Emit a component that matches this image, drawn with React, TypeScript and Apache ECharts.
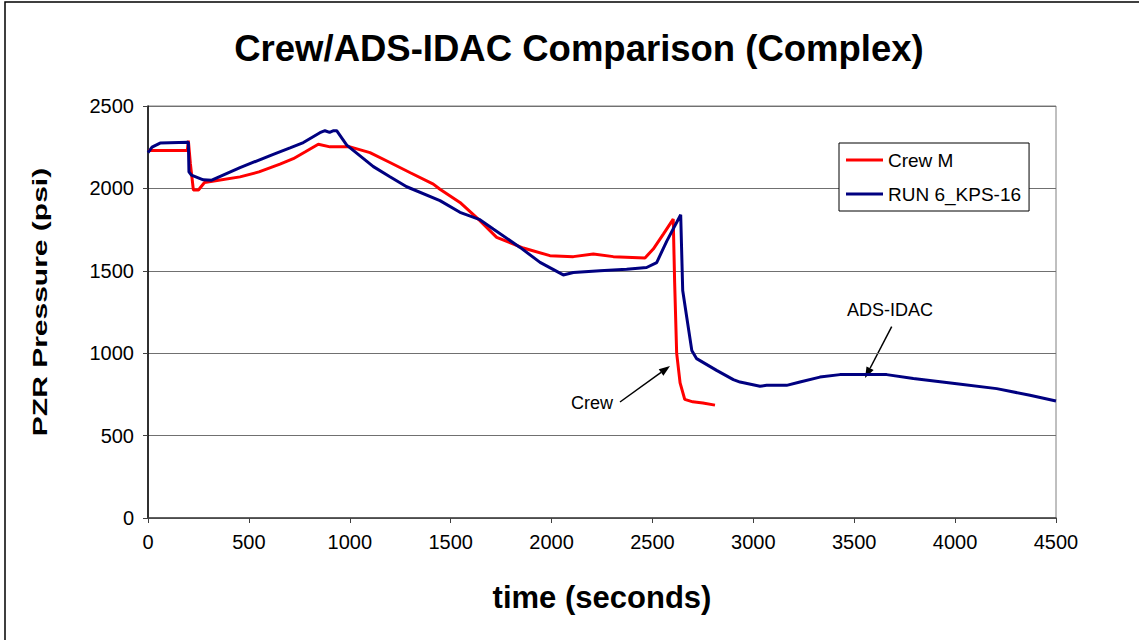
import React, { useEffect, useRef } from "react";
import * as echarts from "echarts";

const crewT = [0, 195, 200, 210, 225, 250, 280, 350, 456, 550, 654, 720, 780, 844, 902, 1001, 1100, 1199, 1300, 1414, 1447, 1546, 1645, 1728, 1860, 1992, 2108, 2207, 2306, 2463, 2504, 2554, 2603, 2610, 2620, 2637, 2660, 2700, 2750, 2810];
const crewP = [2230, 2230, 2290, 2150, 1990, 1990, 2036, 2050, 2070, 2100, 2147, 2180, 2222, 2268, 2252, 2252, 2217, 2157, 2095, 2026, 1995, 1915, 1804, 1703, 1638, 1592, 1586, 1602, 1586, 1578, 1632, 1723, 1814, 1430, 1000, 820, 720, 705, 698, 685];

const runT = [0, 20, 60, 200, 203, 215, 274, 316, 456, 621, 704, 770, 852, 877, 900, 920, 935, 985, 1117, 1199, 1282, 1447, 1546, 1645, 1711, 1844, 1943, 2058, 2108, 2240, 2372, 2471, 2521, 2571, 2640, 2650, 2670, 2695, 2719, 2818, 2901, 2934, 3033, 3066, 3165, 3231, 3330, 3429, 3661, 3793, 4008, 4206, 4371, 4500];
const runP = [2217, 2250, 2275, 2280, 2100, 2080, 2052, 2050, 2126, 2207, 2246, 2278, 2338, 2350, 2340, 2350, 2350, 2263, 2132, 2071, 2010, 1926, 1855, 1810, 1754, 1642, 1551, 1475, 1490, 1500, 1510, 1520, 1550, 1680, 1840, 1380, 1218, 1017, 967, 896, 840, 825, 799, 805, 805, 825, 855, 870, 870, 846, 815, 785, 745, 710];

const xTicks = { min: 0, max: 4500, interval: 500 };
const yTicks = { min: 0, max: 2500, interval: 500 };

function arrow(x1: number, y1: number, x2: number, y2: number) {
  const dx = x2 - x1, dy = y2 - y1;
  const len = Math.sqrt(dx * dx + dy * dy);
  const ux = dx / len, uy = dy / len;
  const px = -uy, py = ux;
  const bx = x2 - ux * 11, by = y2 - uy * 11;
  return [
    { type: "line", shape: { x1, y1, x2: bx, y2: by }, style: { stroke: "#000", lineWidth: 1.5 } },
    {
      type: "polygon",
      shape: { points: [[x2, y2], [bx + px * 4, by + py * 4], [bx - px * 4, by - py * 4]] },
      style: { fill: "#000" },
    },
  ];
}

export default function App() {
  const ref = useRef<HTMLDivElement>(null);
  useEffect(() => {
    const chart = echarts.init(ref.current!, null, { renderer: "svg" });
    const font = "Arial, 'Liberation Sans', sans-serif";
    chart.setOption({
      animation: false,
      backgroundColor: "#fff",
      title: {
        text: "Crew/ADS-IDAC Comparison (Complex)",
        left: 574,
        textAlign: "center",
        top: 25,
        textStyle: { fontFamily: font, fontSize: 36.5, fontWeight: "bold", color: "#000" },
      },
      legend: {
        left: 839,
        top: 143,
        orient: "vertical",
        backgroundColor: "#fff",
        borderColor: "#000",
        borderWidth: 1,
        padding: [7, 8, 7, 7],
        icon: "rect",
        itemWidth: 37,
        itemHeight: 3,
        itemGap: 14,
        textStyle: { fontFamily: font, fontSize: 19, color: "#000", lineHeight: 20 },
        data: ["Crew M", "RUN 6_KPS-16"],
      },
      grid: {
        left: 148,
        top: 106,
        width: 908,
        height: 412,
        show: true,
        borderColor: "#808080",
        borderWidth: 1,
      },
      xAxis: {
        type: "value",
        ...xTicks,
        name: "time (seconds)",
        nameLocation: "middle",
        nameGap: 64,
        nameTextStyle: { fontFamily: font, fontSize: 31, fontWeight: "bold", color: "#000" },
        axisLine: { show: true, lineStyle: { color: "#404040", width: 1.5 } },
        axisTick: { show: true, length: 5, lineStyle: { color: "#404040" } },
        axisLabel: { fontFamily: font, fontSize: 20, color: "#000", margin: 14, formatter: (v: number) => String(v) },
        splitLine: { show: false },
      },
      yAxis: {
        type: "value",
        ...yTicks,
        axisLine: { show: true, lineStyle: { color: "#000", width: 1.5 } },
        axisTick: { show: true, length: 5, lineStyle: { color: "#404040" } },
        axisLabel: { fontFamily: font, fontSize: 20, color: "#000", margin: 14, formatter: (v: number) => String(v) },
        splitLine: { show: true, lineStyle: { color: "#707070", width: 1 } },
      },
      series: [
        {
          name: "Crew M",
          type: "line",
          symbol: "none",
          data: crewT.map((t, i) => [t, crewP[i]]),
          lineStyle: { color: "#ff0000", width: 3 },
          itemStyle: { color: "#ff0000" },
        },
        {
          name: "RUN 6_KPS-16",
          type: "line",
          symbol: "none",
          data: runT.map((t, i) => [t, runP[i]]),
          lineStyle: { color: "#000080", width: 3 },
          itemStyle: { color: "#000080" },
        },
      ],
      graphic: [
        {
          type: "rect",
          shape: { x: 5, y: 2, width: 1140, height: 700 },
          style: { fill: "none", stroke: "#000", lineWidth: 1.5 },
          silent: true,
        },
        {
          type: "text",
          x: 40,
          y: 302,
          rotation: Math.PI / 2,
          scaleX: 1.5,
          style: {
            text: "PZR Pressure (psi)",
            fontFamily: font,
            fontSize: 20,
            fontWeight: "bold",
            fill: "#000",
            align: "center",
            verticalAlign: "middle",
          },
        },
        {
          type: "text",
          x: 592,
          y: 403,
          style: { text: "Crew", fontFamily: font, fontSize: 18, fill: "#000", align: "center", verticalAlign: "middle" },
        },
        {
          type: "text",
          x: 890,
          y: 310,
          style: { text: "ADS-IDAC", fontFamily: font, fontSize: 18, fill: "#000", align: "center", verticalAlign: "middle" },
        },
        ...arrow(620, 402, 670, 366),
        ...arrow(891.7, 326.7, 865, 378),
      ],
    });
    return () => chart.dispose();
  }, []);
  return <div ref={ref} style={{ position: "fixed", left: 0, top: 0, width: 1139, height: 640 }} />;
}
